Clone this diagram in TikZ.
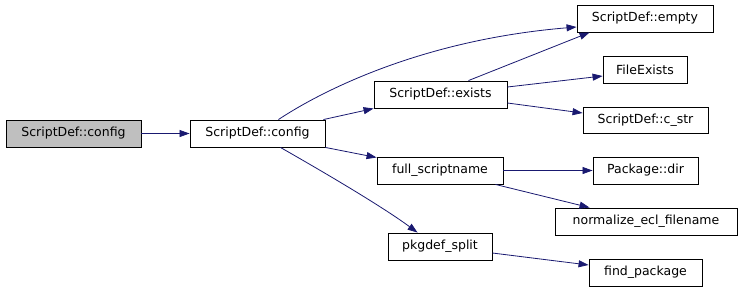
\documentclass[tikz,border=0pt]{standalone}
\usepackage{fontspec}
\setmainfont{DejaVu Sans}
\usetikzlibrary{arrows.meta}
\definecolor{edgeblue}{HTML}{191970}
\definecolor{rootgray}{HTML}{BFBFBF}
\tikzset{
  fn/.style={draw=black, line width=0.9bp, fill=white, minimum height=27bp, inner sep=0pt, font=\fontsize{12.5bp}{14bp}\selectfont, anchor=center},
  rootfn/.style={fn, fill=rootgray},
  call/.style={draw=edgeblue, line width=0.8bp, -{Triangle[length=10bp,width=7bp]}, shorten >=0pt}
}
\begin{document}
\begin{tikzpicture}[x=1bp,y=-1bp]
\useasboundingbox (0,0) rectangle (741,291);
\node[rootfn, minimum width=135bp] (root) at (73.5,133.5) {ScriptDef::config};
\node[fn, minimum width=135bp] (cfg) at (257.5,133.5) {ScriptDef::config};
\node[fn, minimum width=136bp] (empty) at (645,18.5) {ScriptDef::empty};
\node[fn, minimum width=133bp] (exists) at (440.5,94.5) {ScriptDef::exists};
\node[fn, minimum width=84bp] (fexists) at (645,70) {FileExists};
\node[fn, minimum width=125bp, minimum height=26bp] (cstr) at (645.5,120) {ScriptDef::c\_str};
\node[fn, minimum width=126bp] (full) at (440,170.5) {full\_scriptname};
\node[fn, minimum width=105bp] (pdir) at (645.5,170.5) {Package::dir};
\node[fn, minimum width=182bp] (norm) at (646,221.5) {normalize\_ecl\_filename};
\node[fn, minimum width=104bp] (split) at (440,246.5) {pkgdef\_split};
\node[fn, minimum width=113bp] (findp) at (645.5,272.5) {find\_package};

\draw[call] (root.east) -- (cfg.west);
\draw[call] ([xshift=-47bp]cfg.north east) .. controls (320,92) and (420,40) .. (empty.west |- 0,27);
\draw[call] ([xshift=-2bp]cfg.north east) -- (exists.west |- 0,108.5);
\draw[call] (cfg.south east) -- (full.west |- 0,157.5);
\draw[call] ([xshift=-45bp]cfg.south east) .. controls (320,170) and (380,205) .. ([xshift=30bp]split.north west);
\draw[call] ([xshift=28bp]exists.north) -- ([xshift=13bp]empty.south west);
\draw[call] (exists.east |- 0,87) -- (fexists.west |- 0,76);
\draw[call] (exists.east |- 0,103) -- (cstr.west |- 0,113);
\draw[call] (full.east) -- (pdir.west);
\draw[call] ([xshift=-8bp]full.south east) -- ([xshift=35bp]norm.north west);
\draw[call] (split.east |- 0,253) -- (findp.west |- 0,265);
\end{tikzpicture}
\end{document}
